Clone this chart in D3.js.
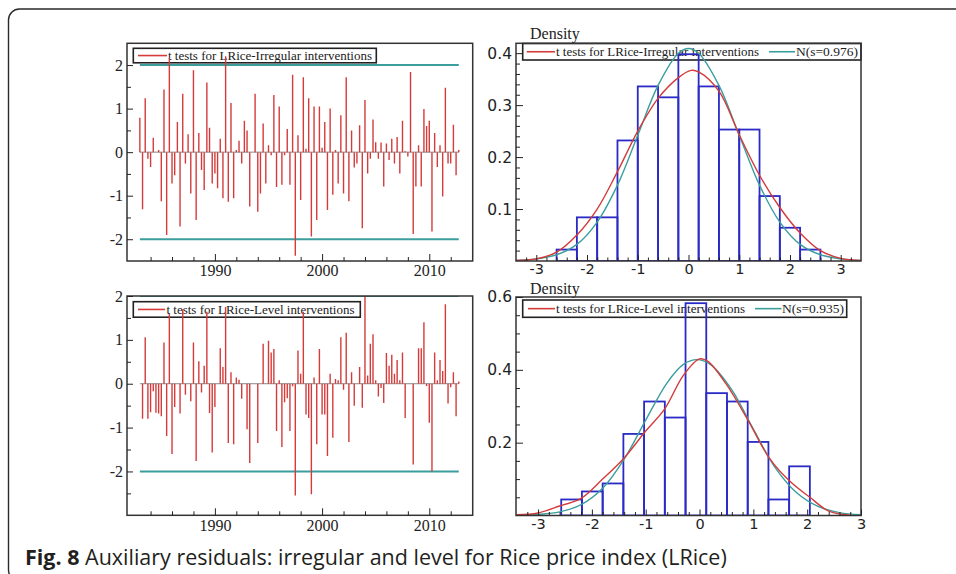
<!DOCTYPE html>
<html>
<head>
<meta charset="utf-8">
<script src="https://cdn.jsdelivr.net/npm/d3@7"></script>
<style>
  html, body { margin: 0; padding: 0; background: #fff; }
  svg { display: block; }
</style>
</head>
<body>
<svg id="chart" width="956" height="574"></svg>
<script>
// ---------------- DATA ----------------
const startYear = 1983;          // first quarterly observation
const periodsPerYear = 4;

// t tests for LRice - Irregular interventions (quarterly)
const irregularT = [
  0.79, -1.31, 1.24, -0.15, -0.34, 0.33, 0.00, 0.05, -1.13, 1.44,
  -1.90, 2.15, -0.72, -0.53, 0.69, -1.71, 1.34, -0.26, 0.41, -0.95,
  1.88, -1.56, 0.44, -0.41, -0.87, 1.60, 0.56, -0.72, -0.49, -0.83,
  0.31, -1.06, 2.20, -1.14, 1.13, -1.06, 0.05, 0.26, -0.26, 0.72,
  0.50, -1.25, 0.00, 1.34, -1.37, -0.95, 0.66, -0.72, 0.16, -0.07,
  1.31, -0.80, 1.05, -0.75, -0.07, 0.53, -0.75, 1.78, -2.38, 0.39,
  -1.10, 1.72, 0.08, 1.24, -1.94, 1.05, -1.56, 1.05, 0.10, 0.69,
  -1.33, 1.00, -0.98, 0.05, -0.72, 0.85, -0.95, 1.72, -1.13, 0.50,
  -0.35, -0.26, 0.62, -1.75, 1.20, -0.49, -0.15, 0.75, 0.23, -0.15,
  0.22, -0.79, 0.20, -0.18, 0.31, -0.26, 0.35, -0.49, 0.72, 0.02,
  -0.10, 1.84, -1.88, -0.79, 0.16, -0.79, 0.99, 0.60, 0.72, -1.82,
  0.44, -0.34, 0.16, -1.02, 1.48, -0.26, -0.26, 0.63, -0.53, 0.05
];

// t tests for LRice - Level interventions (quarterly)
const levelT = [
  0.00, -0.80, 1.06, -0.80, -0.65, -0.17, -0.66, -0.68, -0.74, 0.94,
  -1.19, 1.59, -1.60, -0.53, 0.00, -0.68, 1.69, -0.25, 0.00, -0.40,
  0.94, -1.76, 0.51, -0.20, 0.41, 1.64, -0.67, -1.57, -0.53, 0.00,
  0.81, 0.38, 1.75, -1.35, 0.26, -1.38, 0.14, 0.09, -0.34, 0.00,
  -1.04, -1.81, 0.00, 0.00, -1.35, 0.00, 0.91, 0.00, 0.98, 0.71,
  0.79, -1.08, 0.08, -1.44, -0.42, -0.33, -1.08, -0.06, -2.55, 0.76,
  0.23, 1.64, -0.70, -0.78, -2.52, 0.14, -1.38, 0.79, -0.70, -0.70,
  -1.65, 0.23, -1.23, 0.11, 0.08, 1.06, -0.14, 1.16, -1.33, 0.26,
  -0.50, 0.00, 0.38, -0.55, 2.00, 0.19, 0.91, 1.13, 0.08, -0.29,
  -0.10, -0.44, 0.70, 0.41, 0.66, 0.23, 0.54, 0.08, 0.71, -0.78,
  0.00, 0.00, -1.84, 0.00, 0.81, 0.81, 1.40, -0.05, -0.89, -2.00,
  0.71, 0.08, 0.54, 0.29, 1.81, -0.45, -0.08, 0.26, -0.74, 0.05
];

const bandLevels = [-2, 2];                     // +/- 2 reference lines
const yearMajorTicks = [1990, 2000, 2010];
const yearMinorTicks = [1984, 1986, 1988, 1992, 1994, 1996, 1998, 2002, 2004, 2006, 2008, 2012];
const tsYTicks = [-2, -1, 0, 1, 2];
const tsYLabels = ["-2", "-1", "0", "1", "2"];
const tsYMinorTicks = [-2.5, -1.5, -0.5, 0.5, 1.5];

// Histogram: irregular
const histIrrStart = -2.6;
const histIrrWidth = 0.4;
const histIrrDensity = [0.022, 0.084, 0.084, 0.232, 0.336, 0.315, 0.398, 0.336, 0.253, 0.253, 0.125, 0.064, 0.022];
// kernel density (red) and N(s=0.976) (teal) as read, [x, density]
const kdeIrr = [[-3.4,0.001],[-3.0,0.004],[-2.6,0.017],[-2.2,0.05],[-1.8,0.1],[-1.4,0.172],[-1.0,0.25],[-0.6,0.313],[-0.2,0.353],[0.05,0.367],[0.2,0.364],[0.6,0.327],[1.0,0.243],[1.4,0.165],[1.8,0.103],[2.2,0.054],[2.6,0.02],[3.0,0.005],[3.4,0.001]];
const normIrr = [[-3.4,0.001],[-3.0,0.004],[-2.6,0.012],[-2.2,0.032],[-1.8,0.075],[-1.4,0.146],[-1.0,0.242],[-0.6,0.338],[-0.2,0.4],[0,0.409],[0.2,0.4],[0.6,0.338],[1.0,0.242],[1.4,0.146],[1.8,0.075],[2.2,0.032],[2.6,0.012],[3.0,0.004],[3.4,0.001]];

// Histogram: level
const histLevStart = -2.57;
const histLevWidth = 0.385;
const histLevDensity = [0.044, 0.066, 0.088, 0.224, 0.313, 0.269, 0.583, 0.336, 0.313, 0.202, 0.044, 0.135];
const kdeLev = [[-3.4,0.002],[-3.0,0.007],[-2.6,0.026],[-2.2,0.047],[-1.8,0.1],[-1.4,0.158],[-1.0,0.232],[-0.65,0.292],[-0.3,0.385],[0.0,0.43],[0.15,0.424],[0.5,0.36],[0.9,0.262],[1.3,0.157],[1.7,0.091],[2.05,0.05],[2.4,0.012],[2.8,0.001]];
const normLev = [[-3.4,0.001],[-3.0,0.003],[-2.6,0.01],[-2.2,0.03],[-1.8,0.075],[-1.4,0.155],[-1.0,0.262],[-0.6,0.365],[-0.3,0.415],[-0.05,0.428],[0.2,0.415],[0.6,0.345],[1.0,0.237],[1.4,0.133],[1.8,0.063],[2.2,0.025],[2.6,0.008],[3.0,0.002]];

const densXTicks = [-3, -2, -1, 0, 1, 2, 3];
const densXLabels = ["-3", "-2", "-1", "0", "1", "2", "3"];
const densXMinorTicks = [-3.2, -2.8, -2.6, -2.4, -2.2, -1.8, -1.6, -1.4, -1.2, -0.8, -0.6, -0.4, -0.2, 0.2, 0.4, 0.6, 0.8, 1.2, 1.4, 1.6, 1.8, 2.2, 2.4, 2.6, 2.8, 3.2];
const densIrrYTicks = [0.1, 0.2, 0.3, 0.4];
const densIrrYLabels = ["0.1", "0.2", "0.3", "0.4"];
const densIrrYMinor = [0.02, 0.04, 0.06, 0.08, 0.12, 0.14, 0.16, 0.18, 0.22, 0.24, 0.26, 0.28, 0.32, 0.34, 0.36, 0.38];
const densLevYTicks = [0.2, 0.4, 0.6];
const densLevYLabels = ["0.2", "0.4", "0.6"];
const densLevYMinor = [0.05, 0.1, 0.15, 0.25, 0.3, 0.35, 0.45, 0.5, 0.55];

const legendIrr = "t tests for LRice-Irregular interventions";
const legendLev = "t tests for LRice-Level interventions";
const normIrrLabel = "N(s=0.976)";
const normLevLabel = "N(s=0.935)";
const captionBold = "Fig. 8";
const captionText = " Auxiliary residuals: irregular and level for Rice price index (LRice)";

// ---------------- STYLE ----------------
const RED = "#d43b3b", TEAL = "#3b9e9c", BLUE = "#2a2ac6", INK = "#222", BOXC = "#333";
const SERIF = "'Liberation Serif', 'Times New Roman', serif";
const SANS = "'DejaVu Sans', Verdana, sans-serif";

const svg = d3.select("#chart");
const defs = svg.append("defs");

// outer figure frame (rounded)
svg.append("rect").attr("x", 8.5).attr("y", 9).attr("width", 1000).attr("height", 572)
  .attr("rx", 11).attr("fill", "none").attr("stroke", "#2a2a2a").attr("stroke-width", 1.4);

let clipN = 0;
function clip(box) {
  const id = "clip" + (clipN++);
  defs.append("clipPath").attr("id", id).append("rect")
    .attr("x", box.x0).attr("y", box.y0).attr("width", box.x1 - box.x0).attr("height", box.y1 - box.y0);
  return "url(#" + id + ")";
}

function styleAxis(g, font, size) {
  g.select(".domain").remove();
  g.selectAll(".tick line").attr("stroke", INK).attr("stroke-width", 1);
  g.selectAll("text").attr("font-family", font).attr("font-size", size).attr("fill", INK);
}

function drawBox(box) {
  svg.append("rect").attr("x", box.x0).attr("y", box.y0)
    .attr("width", box.x1 - box.x0).attr("height", box.y1 - box.y0)
    .attr("fill", "none").attr("stroke", BOXC).attr("stroke-width", 1.5);
}

function legend(lb, items) {
  const g = svg.append("g");
  g.append("rect").attr("x", lb.x).attr("y", lb.y).attr("width", lb.w).attr("height", lb.h)
    .attr("fill", "none").attr("stroke", INK).attr("stroke-width", 1.6);
  const cy = lb.y + lb.h / 2;
  items.forEach(it => {
    g.append("line").attr("x1", it.l0).attr("x2", it.l1).attr("y1", cy).attr("y2", cy)
      .attr("stroke", it.color).attr("stroke-width", 1.6);
    g.append("text").attr("x", it.tx).attr("y", cy + 4.5).text(it.text)
      .attr("font-family", SERIF).attr("font-size", 13.5).attr("fill", INK)
      .attr("textLength", it.tw).attr("lengthAdjust", "spacingAndGlyphs");
  });
}

// ---------------- TIME SERIES PANELS ----------------
function tsPanel(box, yDomain, values, lb, legendItems) {
  const x = d3.scaleLinear().domain([1981.8, 2014.05]).range([box.x0, box.x1]);
  const y = d3.scaleLinear().domain(yDomain).range([box.y1, box.y0]);
  const dates = values.map((v, i) => startYear + i / periodsPerYear);
  const first = dates[0], last = dates[dates.length - 1];

  legend(lb, legendItems);

  const g = svg.append("g").attr("clip-path", clip(box));
  g.append("line").attr("x1", x(first)).attr("x2", x(last)).attr("y1", y(0)).attr("y2", y(0))
    .attr("stroke", "#8a8a8a").attr("stroke-width", 1);
  g.selectAll("line.band").data(bandLevels).join("line").attr("class", "band")
    .attr("x1", x(first)).attr("x2", x(last)).attr("y1", d => y(d)).attr("y2", d => y(d))
    .attr("stroke", TEAL).attr("stroke-width", 2);
  g.selectAll("line.bar").data(values).join("line").attr("class", "bar")
    .attr("x1", (d, i) => x(dates[i])).attr("x2", (d, i) => x(dates[i]))
    .attr("y1", y(0)).attr("y2", d => y(d))
    .attr("stroke", RED).attr("stroke-width", 1.4);

  drawBox(box);

  const xa = svg.append("g").attr("transform", `translate(0,${box.y1})`)
    .call(d3.axisBottom(x).tickValues(yearMajorTicks).tickSize(-7).tickPadding(4).tickFormat(d => String(d)));
  styleAxis(xa, SERIF, 16);
  const xm = svg.append("g").attr("transform", `translate(0,${box.y1})`)
    .call(d3.axisBottom(x).tickValues(yearMinorTicks).tickSize(-4).tickFormat(""));
  styleAxis(xm, SERIF, 16);

  const ya = svg.append("g").attr("transform", `translate(${box.x0},0)`)
    .call(d3.axisLeft(y).tickValues(tsYTicks).tickSize(-6).tickPadding(4).tickFormat((d, i) => tsYLabels[i]));
  styleAxis(ya, SERIF, 16);
  const ym = svg.append("g").attr("transform", `translate(${box.x0},0)`)
    .call(d3.axisLeft(y).tickValues(tsYMinorTicks.filter(v => v > yDomain[0] && v < yDomain[1])).tickSize(-4).tickFormat(""));
  styleAxis(ym, SERIF, 16);
}

// ---------------- DENSITY PANELS ----------------
function densPanel(box, xDomain, yDomain, hStart, hWidth, hDens, kde, norm, yT, yL, yMinor, lb, legendItems, densY) {
  const x = d3.scaleLinear().domain(xDomain).range([box.x0, box.x1]);
  const y = d3.scaleLinear().domain(yDomain).range([box.y1, box.y0]);

  svg.append("text").attr("x", box.x0 + 14).attr("y", densY).text("Density")
    .attr("font-family", SERIF).attr("font-size", 16).attr("fill", INK);

  legend(lb, legendItems);

  const g = svg.append("g").attr("clip-path", clip(box));
  g.selectAll("rect.bin").data(hDens).join("rect").attr("class", "bin")
    .attr("x", (d, i) => x(hStart + i * hWidth))
    .attr("width", (d, i) => x(hStart + (i + 1) * hWidth) - x(hStart + i * hWidth))
    .attr("y", d => y(d)).attr("height", d => y(0) - y(d))
    .attr("fill", "none").attr("stroke", BLUE).attr("stroke-width", 1.8);

  const line = d3.line().x(d => x(d[0])).y(d => y(d[1])).curve(d3.curveCatmullRom.alpha(0.5));
  g.append("path").attr("d", line(norm)).attr("fill", "none").attr("stroke", TEAL).attr("stroke-width", 1.4);
  g.append("path").attr("d", line(kde)).attr("fill", "none").attr("stroke", RED).attr("stroke-width", 1.4);

  drawBox(box);

  const xa = svg.append("g").attr("transform", `translate(0,${box.y1})`)
    .call(d3.axisBottom(x).tickValues(densXTicks).tickSize(-6).tickPadding(3).tickFormat((d, i) => densXLabels[i]));
  styleAxis(xa, SANS, 14.5);
  const xm = svg.append("g").attr("transform", `translate(0,${box.y1})`)
    .call(d3.axisBottom(x).tickValues(densXMinorTicks.filter(v => v > xDomain[0] && v < xDomain[1])).tickSize(-3.5).tickFormat(""));
  styleAxis(xm, SANS, 14.5);

  const ya = svg.append("g").attr("transform", `translate(${box.x0},0)`)
    .call(d3.axisLeft(y).tickValues(yT).tickSize(-7).tickPadding(4).tickFormat((d, i) => yL[i]));
  styleAxis(ya, SANS, 15.5);
  const ym = svg.append("g").attr("transform", `translate(${box.x0},0)`)
    .call(d3.axisLeft(y).tickValues(yMinor).tickSize(-4).tickFormat(""));
  styleAxis(ym, SANS, 15.5);
}

// Top-left
tsPanel({x0: 127, x1: 472.7, y0: 43.3, y1: 261}, [-2.5, 2.5], irregularT,
  {x: 133.3, y: 48.3, w: 243, h: 14.5},
  [{l0: 138, l1: 167, color: RED, tx: 168, tw: 204, text: legendIrr}]);

// Bottom-left
tsPanel({x0: 127, x1: 472.7, y0: 296, y1: 515.3}, [-3, 2], levelT,
  {x: 133.3, y: 301.7, w: 227, h: 15.5},
  [{l0: 138, l1: 165, color: RED, tx: 166.5, tw: 188, text: legendLev}]);

// Top-right
densPanel({x0: 516, x1: 861, y0: 43.3, y1: 261}, [-3.4, 3.4], [0, 0.419],
  histIrrStart, histIrrWidth, histIrrDensity, kdeIrr, normIrr,
  densIrrYTicks, densIrrYLabels, densIrrYMinor,
  {x: 522.7, y: 43.5, w: 338.3, h: 16.5},
  [{l0: 526.7, l1: 555, color: RED, tx: 556, tw: 203, text: legendIrr},
   {l0: 769, l1: 795, color: TEAL, tx: 796, tw: 62, text: normIrrLabel}], 38.5);

// Bottom-right
densPanel({x0: 516, x1: 861, y0: 297, y1: 515.5}, [-3.41, 3.0], [0, 0.6],
  histLevStart, histLevWidth, histLevDensity, kdeLev, normLev,
  densLevYTicks, densLevYLabels, densLevYMinor,
  {x: 522.7, y: 300, w: 324, h: 17.3},
  [{l0: 528, l1: 555, color: RED, tx: 556, tw: 189, text: legendLev},
   {l0: 755, l1: 781.5, color: TEAL, tx: 782, tw: 62, text: normLevLabel}], 293.5);

// ---------------- CAPTION ----------------
const cap = svg.append("text").attr("x", 25).attr("y", 564.5)
  .attr("font-family", "'Open Sans', 'Noto Sans', sans-serif").attr("font-size", 18).attr("fill", "#231f20");
cap.append("tspan").attr("font-weight", "bold").text(captionBold);
cap.append("tspan").text(captionText);
const targetW = 702;
const w = cap.node().getComputedTextLength();
cap.attr("font-size", 18 * targetW / w);
</script>
</body>
</html>
